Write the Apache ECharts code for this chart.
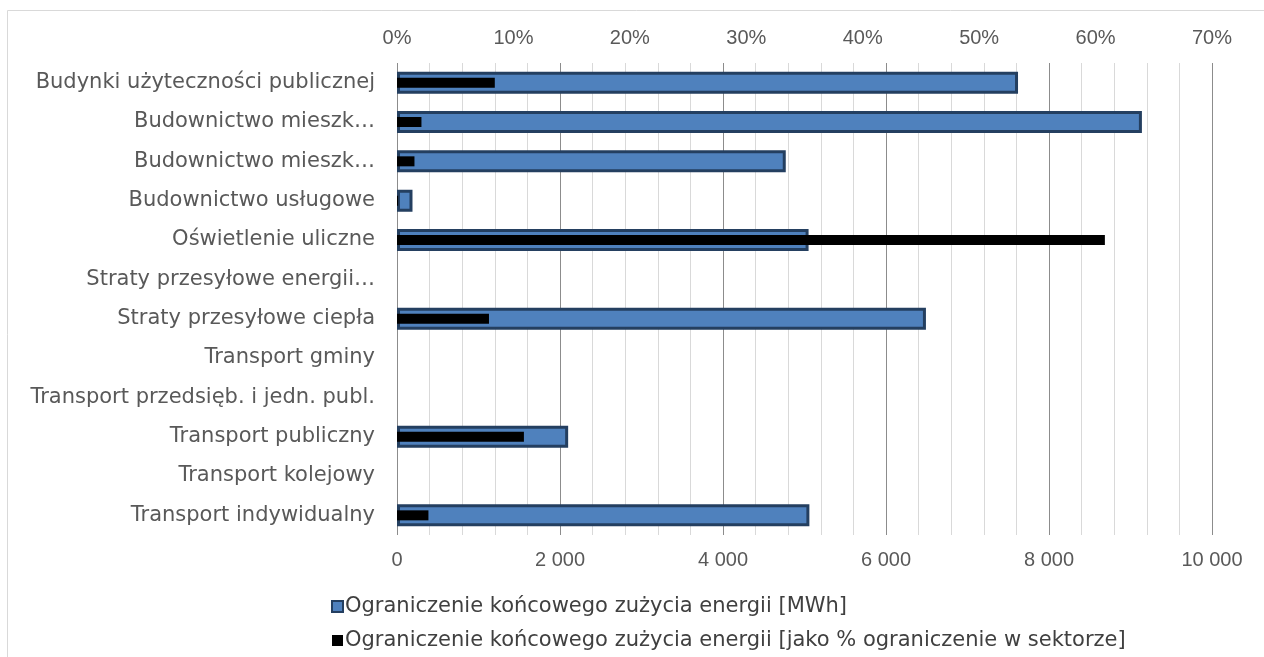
<!DOCTYPE html>
<html>
<head>
	<meta charset="utf-8"/>
	<title>Ograniczenie końcowego zużycia energii</title>
	<script src="https://cdn.jsdelivr.net/npm/echarts@6/dist/echarts.min.js"></script>
	<style>
		html, body { margin: 0; padding: 0; background: #fff; }
		#chart { width: 1264px; height: 657px; }
	</style>
</head>
<body>
<div id="chart"></div>
<script>
    // kategorie (pelne nazwy) i etykiety jak na wykresie
    var categories = [
        'Budynki użyteczności publicznej',
        'Budownictwo mieszkaniowe jednorodzinne',
        'Budownictwo mieszkaniowe wielorodzinne',
        'Budownictwo usługowe',
        'Oświetlenie uliczne',
        'Straty przesyłowe energii elektrycznej',
        'Straty przesyłowe ciepła',
        'Transport gminy',
        'Transport przedsięb. i jedn. publ.',
        'Transport publiczny',
        'Transport kolejowy',
        'Transport indywidualny'
    ];
    var tickLabels = [
        'Budynki użyteczności publicznej',
        'Budownictwo mieszk…',
        'Budownictwo mieszk…',
        'Budownictwo usługowe',
        'Oświetlenie uliczne',
        'Straty przesyłowe energii…',
        'Straty przesyłowe ciepła',
        'Transport gminy',
        'Transport przedsięb. i jedn. publ.',
        'Transport publiczny',
        'Transport kolejowy',
        'Transport indywidualny'
    ];
    // Ograniczenie [MWh]
    var savingMWh = [7620, 9140, 4770, 190, 5050, 0, 6490, 0, 0, 2100, 0, 5060];
    // Ograniczenie [% w sektorze]
    var savingPct = [8.4, 2.1, 1.5, 0.1, 60.8, 0, 7.9, 0, 0, 10.9, 0, 2.7];

    var seriesNames = [
        'Ograniczenie końcowego zużycia energii [MWh]',
        'Ograniczenie końcowego zużycia energii [jako % ograniczenie w sektorze]'
    ];

    function noZero(arr) {
        return arr.map(function (v) { return v === 0 ? '-' : v; });
    }
    function fmtThousands(v) {
        return String(v).replace(/\B(?=(\d{3})+(?!\d))/g, ' ');
    }

    var font = '"DejaVu Sans", sans-serif';
    var numFont = '"Liberation Sans", Arial, sans-serif';
    var myChart = echarts.init(document.getElementById('chart'));
    var option = {
        animation: false,
        textStyle: { fontFamily: font },
        graphic: [{
            type: 'rect',
            shape: { x: 7.5, y: 10.5, width: 1300, height: 700 },
            style: { fill: 'none', stroke: '#d9d9d9', lineWidth: 1 },
            silent: true
        }],
        grid: { left: 397, right: 52, top: 63, bottom: 122 },
        legend: {
            orient: 'vertical',
            left: 326,
            top: 591,
            icon: 'rect',
            itemWidth: 11,
            itemHeight: 11,
            itemGap: 13,
            textStyle: { fontSize: 21, color: '#404040', fontFamily: font, padding: [0, 0, 0, -3] },
            data: seriesNames
        },
        xAxis: [{
            type: 'value',
            position: 'bottom',
            min: 0,
            max: 10000,
            interval: 2000,
            axisLine: { show: false },
            axisTick: { show: false },
            axisLabel: {
                fontSize: 20, color: '#595959', margin: 15, fontFamily: numFont,
                formatter: function (v) { return fmtThousands(v); }
            },
            splitLine: { show: true, lineStyle: { color: '#8c8c8c', width: 1 } },
            minorSplitLine: { show: true, lineStyle: { color: '#d9d9d9', width: 1 } },
            minorTick: { show: false, splitNumber: 5 }
        }, {
            type: 'value',
            position: 'top',
            min: 0,
            max: 70,
            interval: 10,
            axisLine: { show: false },
            axisTick: { show: false },
            axisLabel: {
                fontSize: 20, color: '#595959', margin: 15, fontFamily: numFont,
                formatter: '{value}%'
            },
            splitLine: { show: false }
        }],
        yAxis: [{
            type: 'category',
            inverse: true,
            data: categories,
            axisLine: { show: false },
            axisTick: { show: false },
            axisLabel: {
                fontSize: 21, color: '#595959', margin: 22,
                formatter: function (v, i) { return tickLabels[i]; }
            }
        }, {
            type: 'category',
            inverse: true,
            data: categories,
            show: false
        }],
        series: [{
            name: seriesNames[0],
            type: 'bar',
            xAxisIndex: 0,
            yAxisIndex: 0,
            barWidth: 22,
            itemStyle: { color: '#4f81bd', borderColor: '#243f60', borderWidth: 3 },
            data: noZero(savingMWh)
        }, {
            name: seriesNames[1],
            type: 'bar',
            xAxisIndex: 1,
            yAxisIndex: 1,
            barWidth: 10,
            itemStyle: { color: '#000000' },
            data: noZero(savingPct)
        }]
    };
    myChart.setOption(option);
</script>
</body>
</html>
